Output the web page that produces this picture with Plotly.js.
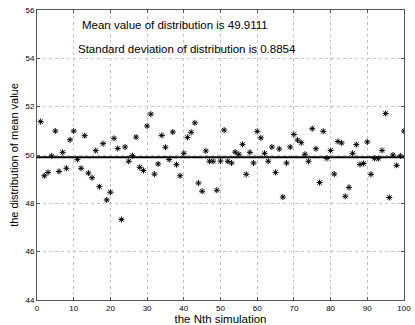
<!DOCTYPE html>
<html>
<head>
<meta charset="utf-8">
<script src="https://cdn.plot.ly/plotly-3.0.1.min.js"></script>
<style>
  html, body { margin: 0; padding: 0; background: #fff; }
  #plot { width: 415px; height: 325px; }
</style>
</head>
<body>
<div id="plot"></div>
<script>
// simulation index and the mean value obtained in each run
const simIndex = Array.from({ length: 100 }, (_, i) => i + 1);
const meanValues = [
  51.38, 49.14, 49.28, 49.96, 50.99, 49.32, 50.11, 49.45, 50.63, 50.99,
  49.82, 49.45, 50.80, 49.25, 49.06, 50.18, 48.69, 50.47, 48.14, 48.46,
  50.69, 50.27, 47.33, 50.33, 49.74, 49.97, 50.74, 49.49, 49.36, 51.20,
  51.69, 49.21, 49.63, 50.81, 50.32, 49.81, 50.95, 49.60, 49.14, 50.07,
  50.73, 50.94, 51.33, 48.84, 48.50, 50.17, 49.74, 49.74, 48.54, 49.75,
  51.03, 49.74, 49.67, 50.12, 50.03, 50.44, 49.20, 50.11, 49.67, 50.98,
  50.71, 50.07, 49.74, 50.33, 49.28, 50.25, 48.26, 49.67, 50.33, 50.85,
  50.62, 50.51, 50.03, 49.74, 51.09, 50.26, 48.86, 50.98, 49.86, 50.19,
  49.21, 50.56, 50.50, 48.29, 48.66, 50.07, 50.43, 49.61, 49.65, 50.54,
  49.20, 49.86, 49.85, 50.19, 51.72, 48.24, 50.00, 49.57, 49.96, 50.99
];
const meanOfAll = 49.9111;
const stdOfAll = 0.8854;
const xRange = [0, 100];
const yRange = [44, 56];

const font = 'Liberation Sans, Arial, sans-serif';

const traces = [
  {
    type: 'scatter',
    mode: 'lines',
    x: xRange,
    y: [meanOfAll, meanOfAll],
    line: { color: '#000', width: 2 },
    hoverinfo: 'skip'
  },
  {
    type: 'scatter',
    mode: 'markers',
    x: simIndex,
    y: meanValues,
    marker: {
      symbol: 'asterisk-open',
      size: 5,
      color: '#000',
      line: { color: '#222', width: 1 }
    }
  }
];

const axisCommon = {
  showline: true,
  linecolor: '#555',
  linewidth: 1,
  mirror: 'ticks',
  ticks: 'inside',
  ticklen: 3,
  tickcolor: '#555',
  showgrid: true,
  gridcolor: '#c4c4c4',
  griddash: 'dot',
  gridwidth: 1,
  zeroline: false,
  tickfont: { family: font, size: 8, color: '#000' }
};

const layout = {
  width: 415,
  height: 325,
  margin: { l: 37, r: 11, t: 10, b: 25 },
  paper_bgcolor: '#fff',
  plot_bgcolor: '#fff',
  showlegend: false,
  font: { family: font, color: '#000' },
  xaxis: Object.assign({}, axisCommon, {
    range: xRange,
    dtick: 10,
    title: { text: 'the Nth simulation', font: { family: font, size: 11.5 }, standoff: 1 }
  }),
  yaxis: Object.assign({}, axisCommon, {
    range: yRange,
    dtick: 2,
    title: { text: 'the distribution of mean value', font: { family: font, size: 11 }, standoff: 4 }
  }),
  annotations: [
    {
      x: 11.8, y: 55.38, xref: 'x', yref: 'y',
      text: 'Mean value of distribution is ' + meanOfAll.toFixed(4),
      showarrow: false, xanchor: 'left',
      font: { family: font, size: 11.5 }
    },
    {
      x: 10.7, y: 54.39, xref: 'x', yref: 'y',
      text: 'Standard deviation of distribution is ' + stdOfAll.toFixed(4),
      showarrow: false, xanchor: 'left',
      font: { family: font, size: 11.5 }
    }
  ]
};

Plotly.newPlot('plot', traces, layout, { displayModeBar: false, staticPlot: true });
</script>
</body>
</html>
